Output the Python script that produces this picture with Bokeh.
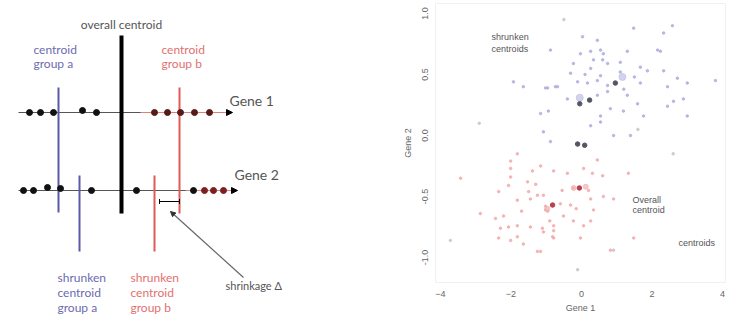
from bokeh.plotting import figure
from bokeh.layouts import row, column
from bokeh.models import Range1d, FixedTicker, Arrow, NormalHead, TeeHead, PrintfTickFormatter, Label
from bokeh.core.properties import value
from bokeh.embed import file_html
from bokeh.resources import INLINE

# ---------------- left schematic (diagram units ~ pixels) ----------------
gene_labels = ["Gene 1", "Gene 2"]
gene_levels = [112, 190]
gene_line_start = [18, 18]
gene_line_end = [231, 236]
gene1_dots_a = [29, 40, 53, 82, 96]
gene1_dots_a_y = [112, 112, 112, 110, 112]
gene1_dots_b = [154, 167, 180, 194, 209]
gene2_dots_a = [23, 33, 47, 60, 91, 136, 193]
gene2_dots_a_y = [190, 190, 187, 188, 190, 190, 190]
gene2_dots_b = [204, 213, 223]

overall_centroid = 121
centroid_a = 58
centroid_b = 179
shrunken_a = 79
shrunken_b = 154

# ---------------- right scatter data (Gene 1, Gene 2) ----------------
blue_x = [1.48, 2.58, 2.33, 0.45, 0.03, -0.88, -0.03, 0.54, 0.26, 0.62, 1.30, 2.16, 2.24,
          -0.23, 0.34, 0.74, 1.10, 1.67, 1.87, 2.33, -0.31, 0.26, 0.54, 1.10, -0.96, -0.68,
          -0.11, 0.17, 0.45, 0.74, 1.67, 2.44, 2.72, 3.00, 3.80, -0.40, 0.45, 0.74, 1.30,
          1.59, 2.61, 2.89, 0.82, 1.19, 1.76, 2.44, 0.54, 3.00, -1.16, 0.26, 0.54, -1.08,
          0.91, 1.39, -0.88, -1.93, -1.65, -1.02, -0.74, -0.94, 0.60, 1.20, 0.10, 1.50]
blue_y = [0.88, 0.90, 0.84, 0.78, 0.81, 0.70, 0.67, 0.70, 0.69, 0.67, 0.69, 0.70, 0.69,
          0.59, 0.62, 0.59, 0.60, 0.56, 0.53, 0.53, 0.51, 0.55, 0.49, 0.52, 0.39, 0.40,
          0.44, 0.43, 0.45, 0.41, 0.43, 0.40, 0.47, 0.43, 0.45, 0.30, 0.33, 0.36, 0.33,
          0.26, 0.28, 0.30, 0.22, 0.20, 0.16, 0.24, 0.16, 0.16, 0.18, 0.08, 0.11, 0.03,
          0.00, 0.00, -0.05, 0.44, 0.40, 0.39, 0.40, 0.20, 0.62, 0.38, 0.50, 0.48]
red_x = [-2.01, -2.01, -2.01, -1.82, -1.39, -1.16, -0.79, -2.35, -2.07, -1.82, -1.45, -1.25,
         -1.02, -2.44, -2.21, -2.07, -2.30, -1.82, -1.45, -1.11, -0.79, -2.35, -2.01, -1.82,
         -1.65, -0.82, -2.87, -1.25, -3.43, -1.53, -1.50, -1.02, -0.40, 0.06, 0.31, 0.60,
         1.33, -0.23, 0.20, -1.08, -0.60, -0.31, 0.26, 0.62, 0.91, 0.34, -0.96, -0.51,
         -0.23, -0.79, 0.06, 0.26, -1.08, -0.03, -0.79, 0.82, 1.48, -1.16, -1.30, -0.55,
         -1.70, -0.90, 0.45, -0.15]
red_y = [-0.21, -0.27, -0.34, -0.15, -0.29, -0.25, -0.29, -0.46, -0.41, -0.53, -0.52, -0.49,
         -0.61, -0.68, -0.66, -0.75, -0.76, -0.74, -0.75, -0.76, -0.78, -0.84, -0.86, -0.83,
         -0.89, -0.83, -0.64, -0.95, -0.35, -0.38, -0.46, -0.58, -0.31, -0.27, -0.31, -0.33,
         -0.31, -0.43, -0.45, -0.49, -0.56, -0.57, -0.52, -0.50, -0.52, -0.61, -0.62, -0.66,
         -0.70, -0.74, -0.74, -0.70, -0.79, -0.84, -0.84, -0.94, -0.84, -0.95, -0.40, -0.45,
         -0.62, -0.70, -0.20, -0.60]
grey_x = [-0.11, 0.91, -3.72, 1.60, -2.90, 2.60, -0.50]
grey_y = [-1.10, -0.94, -0.86, 0.05, 0.10, -0.15, 0.95]
centroid_x = [0.96, 0.23, -0.05, -0.11, 0.09]
centroid_y = [0.43, 0.29, 0.26, -0.07, -0.08]
blue_halo_x = [1.16, -0.05]
blue_halo_y = [0.48, 0.31]
red_centroid_x = [-0.06, -0.82]
red_centroid_y = [-0.43, -0.57]
red_halo_x = [-0.22, 0.12, -0.97]
red_halo_y = [-0.43, -0.42, -0.60]
x_ticks = [-4, -2, 0, 2, 4]
y_ticks = [-1.0, -0.5, 0.0, 0.5, 1.0]

BLUE = "#5a5aa6"
RED = "#e05a5a"
BLUE_T = "#6b6bb0"
RED_T = "#e27070"
FONT = "Lato"

TOP_B = 3
BOT_B = 39
H = 321

left = figure(width=380, height=H, x_range=Range1d(0, 380), y_range=Range1d(H, 0),
              x_axis_location=None, y_axis_location=None,
              output_backend="svg", toolbar_location=None, min_border=0)
left.grid.visible = False
left.outline_line_color = None
left.background_fill_color = "white"


def label(fig, x, y, txt, color, size="12px", align="left"):
    fig.add_layout(Label(x=x, y=y, text=txt, text_font=FONT, text_font_size=size,
                         text_color=color, text_baseline="middle", text_align=align))


# gene axes
left.segment(x0=gene_line_start, y0=gene_levels, x1=gene_line_end, y1=gene_levels,
             line_color="#555555", line_width=1.2)
left.segment(x0=[140, 185], y0=gene_levels, x1=gene_line_end, y1=gene_levels,
             line_color="#d98080", line_width=1.2)
for xe, ye in zip(gene_line_end, gene_levels):
    left.add_layout(Arrow(end=NormalHead(size=6, fill_color="black", line_color="black"),
                          x_start=xe - 4, y_start=ye, x_end=xe + 1, y_end=ye,
                          line_color="black", line_width=1))
for xe, ly, txt in zip(gene_line_end, [100, 174], gene_labels):
    label(left, xe - 2, ly, txt, "#555555", size="14px")

# centroid lines
left.segment(x0=[overall_centroid], y0=[35], x1=[overall_centroid], y1=[213],
             line_color="black", line_width=4)
left.segment(x0=[centroid_a], y0=[87], x1=[centroid_a], y1=[212], line_color=BLUE, line_width=2)
left.segment(x0=[shrunken_a], y0=[175], x1=[shrunken_a], y1=[251], line_color=BLUE, line_width=2)
left.segment(x0=[centroid_b], y0=[87], x1=[centroid_b], y1=[213], line_color=RED, line_width=2)
left.segment(x0=[shrunken_b], y0=[175], x1=[shrunken_b], y1=[251], line_color=RED, line_width=2)

# dots
left.scatter(x=gene1_dots_a, y=gene1_dots_a_y, size=6, color="#111111")
left.scatter(x=gene1_dots_b, y=[112] * len(gene1_dots_b), size=6, color="#551a1a")
left.scatter(x=gene2_dots_a, y=gene2_dots_a_y, size=6, color="#111111")
left.scatter(x=gene2_dots_b, y=[190] * len(gene2_dots_b), size=6, color="#7a2020")

# shrinkage marker
left.add_layout(Arrow(end=TeeHead(size=5, line_color="black", line_width=1),
                      start=TeeHead(size=5, line_color="black", line_width=1),
                      x_start=shrunken_b + 5, y_start=201, x_end=centroid_b, y_end=201,
                      line_color="black", line_width=1.2))
left.add_layout(Arrow(end=NormalHead(size=5, fill_color="#333333", line_color="#333333"),
                      x_start=243, y_start=277, x_end=170, y_end=211,
                      line_color="#666666", line_width=1.2))

# labels
label(left, 121, 24, "overall centroid", "#555555", align="center")
for ly, txt in zip([49, 63], ["centroid", "group a"]):
    label(left, 33, ly, txt, BLUE_T)
for ly, txt in zip([49, 63], ["centroid", "group b"]):
    label(left, 161, ly, txt, RED_T)
for ly, txt in zip([277, 292, 307], ["shrunken", "centroid", "group a"]):
    label(left, 57, ly, txt, BLUE_T)
for ly, txt in zip([277, 292, 307], ["shrunken", "centroid", "group b"]):
    label(left, 130, ly, txt, RED_T)
label(left, 225, 285, "shrinkage \u0394", "#555555", size="11px")

# ---------------- right scatter ----------------
ppu_x = (722 - 440) / 8.0
ppu_y = 122.0
right = figure(width=350, height=H,
               x_range=Range1d(-4 - 5 / ppu_x, 4 + 3 / ppu_x),
               y_range=Range1d(-1 - (H - BOT_B - 257) / ppu_y, 1 + (13 - TOP_B) / ppu_y),
               output_backend="svg", toolbar_location=None,
               min_border_left=55, min_border_right=5,
               min_border_top=TOP_B, min_border_bottom=BOT_B)
right.grid.visible = False
right.outline_line_color = "#f0f0f0"
right.xaxis.ticker = FixedTicker(ticks=x_ticks)
right.yaxis.ticker = FixedTicker(ticks=y_ticks)
right.yaxis.formatter = PrintfTickFormatter(format="%.1f")
right.xaxis.axis_label = "Gene 1"
right.yaxis.axis_label = "Gene 2"
for ax in (right.xaxis, right.yaxis):
    ax.axis_line_color = None
    ax.major_tick_line_color = None
    ax.minor_tick_line_color = None
    ax.major_tick_out = 0
    ax.major_tick_in = 0
    ax.major_label_text_font = "Liberation Sans"
    ax.major_label_text_font_size = "9px"
    ax.major_label_text_color = "#666666"
    ax.axis_label_text_font = "Liberation Sans"
    ax.axis_label_text_font_size = "9px"
    ax.axis_label_text_font_style = "normal"
    ax.axis_label_text_color = "#666666"
right.xaxis.major_label_standoff = 8
right.xaxis.axis_label_standoff = 3
right.yaxis.major_label_orientation = "vertical"
right.yaxis.major_label_standoff = 8
right.yaxis.axis_label_standoff = 6

right.scatter(x=grey_x, y=grey_y, size=2.5, color="#cccccc")
right.scatter(x=blue_x, y=blue_y, size=2.5, color="#aeaedc", alpha=0.85)
right.scatter(x=red_x, y=red_y, size=2.5, color="#f2aaaa", alpha=0.85)
right.scatter(x=blue_halo_x, y=blue_halo_y, size=7, color="#c0c0e6", alpha=0.7)
right.scatter(x=red_halo_x, y=red_halo_y, size=5, color="#f2b0b0", alpha=0.7)
right.scatter(x=centroid_x, y=centroid_y, size=4.5, color="#555566")
right.scatter(x=red_centroid_x, y=red_centroid_y, size=4.5, color="#b8404e")

right.text(x=[-2.55, -2.55], y=[0.81, 0.71], text=["shrunken", "centroids"],
           text_font=value("Liberation Sans"), text_font_size="9px", text_color="#555555",
           text_baseline="middle")
right.text(x=[1.45, 1.45], y=[-0.53, -0.61], text=["Overall", "centroid"],
           text_font=value("Liberation Sans"), text_font_size="9px", text_color="#555555",
           text_baseline="middle")
right.text(x=[2.75], y=[-0.88], text=["centroids"],
           text_font=value("Liberation Sans"), text_font_size="9px", text_color="#555555",
           text_baseline="middle")

layout = row(column(left), column(right))
open("out.html", "w").write(file_html(layout, INLINE))
